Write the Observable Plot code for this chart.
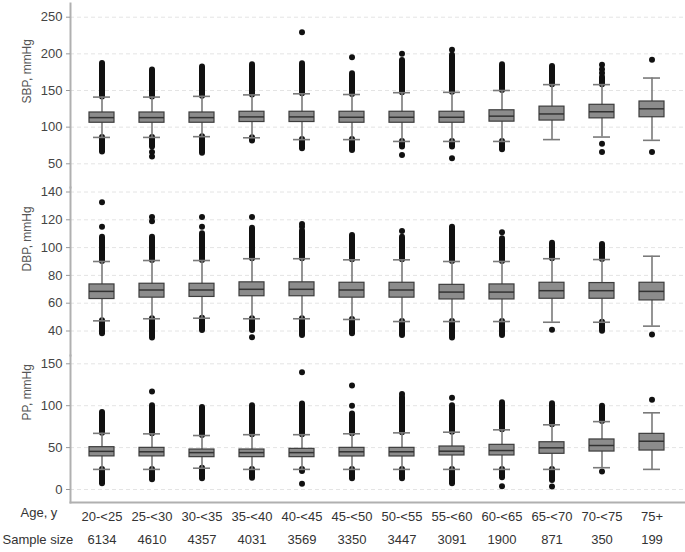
<!DOCTYPE html>
<html>
<head>
<meta charset="utf-8">
<script src="https://cdn.jsdelivr.net/npm/d3@7"></script>
<script src="https://cdn.jsdelivr.net/npm/@observablehq/plot@0.6"></script>
<style>
  body { margin: 0; background: #fff; }
  #chart { position: relative; width: 685px; height: 552px; }
  #chart svg { position: absolute; left: 0; display: block; }
</style>
</head>
<body>
<div id="chart"></div>
<script>
const ages = ["20-<25","25-<30","30-<35","35-<40","40-<45","45-<50","50-<55","55-<60","60-<65","65-<70","70-<75","75+"];
const sampleSizes = [6134,4610,4357,4031,3569,3350,3447,3091,1900,871,350,199];

// SBP, mmHg
const sbpTicks = [50,100,150,200,250];
const sbpQ1  = [106,106,106,107,107,106,106,106,107.5,109,112,113.5];
const sbpMed = [113,113,113,114,114,113.5,113.5,113.5,115,118,121,125];
const sbpQ3  = [120,120,120,121,121,121,121,121,123,128,130.5,135];
const sbpWhiskerLow  = [86,86,87,85.5,83,83,80.5,80.5,80.5,83,86.5,82];
const sbpWhiskerHigh = [141,141,142,144,145.5,144.5,147,147.5,150,158,158,167];
const sbpDenseLow  = [66,73,64.5,81,70.5,68,73,73,69,null,null,null];
const sbpDenseHigh = [187,178,182,185,186.5,173,191,198,185,182.8,168,null];
const sbpOutliers = [[1,66],[1,60],[4,229.5],[5,195.5],[6,200],[6,62],[7,205.5],[7,57.7],[10,185],[10,179],[10,174],[10,77.4],[10,66],[11,192],[11,66]];

// DBP, mmHg
const dbpTicks = [40,60,80,100,120,140];
const dbpQ1  = [63,64,64.5,65,65,64,64,62.7,62.7,63.2,63.2,62];
const dbpMed = [68.5,69.5,69.5,70,70,69.5,69.5,68,68,69,69,68.5];
const dbpQ3  = [73.5,74,74,75,75,74.7,74.7,73.2,73.5,74.7,74.5,74.7];
const dbpWhiskerLow  = [47.3,48.8,49.2,48.8,48.8,48.3,46.8,46.8,46.8,46.3,46.3,43.5];
const dbpWhiskerHigh = [90,90.7,90.7,92,92,91.2,91.2,90,90,92,91.4,93.8];
const dbpDenseLow  = [38,35,40.4,40.4,36.8,38,36.8,35,36.8,null,39.9,null];
const dbpDenseHigh = [107.5,107.5,110,114,112,108.7,107.5,113.5,106.3,103.2,102.2,null];
const dbpOutliers = [[0,115],[0,132.7],[1,119],[1,122],[2,115],[2,122],[3,122],[3,35.5],[4,115],[4,117],[6,112],[7,115],[8,111],[9,40.9],[11,37.5]];

// PP, mmHg
const ppTicks = [0,50,100,150];
const ppQ1  = [39.5,39.5,38.6,38.6,38.6,39.4,39.4,40.6,40.6,42.6,45.3,46.5];
const ppMed = [45.5,45,44,44,44,45,45,45.7,46.5,49.7,52.5,57.6];
const ppQ3  = [50.5,49.7,47.7,47.7,48.5,49.7,49.7,51.3,53.3,56.4,59.7,66.4];
const ppWhiskerLow  = [24,24,25.4,24,24,24,24,24,24,24,26,24];
const ppWhiskerHigh = [67,66.4,64.4,65.4,65.4,66.5,67.6,68.4,71.2,77.2,81,91.5];
const ppDenseLow  = [7,11.5,12.8,13.5,21.5,12.8,12.8,6.8,14,10.7,null,null];
const ppDenseHigh = [92,100,98,100,102,90,110,100,103.4,102.3,99.4,null];
const ppOutliers = [[1,117],[4,140],[4,7],[5,100],[5,124],[6,114],[7,109.4],[8,4],[9,3.6],[10,21.5],[11,107]];

const font = "Liberation Sans, Arial, sans-serif";

function panel(cfg) {
  const rows = ages.map((a, i) => ({
    age: a, q1: cfg.q1[i], med: cfg.med[i], q3: cfg.q3[i],
    wl: cfg.wl[i], wh: cfg.wh[i], dl: cfg.dl[i], dh: cfg.dh[i]
  }));
  const marks = [
    Plot.gridY(cfg.ticks, {stroke: "#e4e4e4", strokeOpacity: 1, strokeDasharray: "4,3"}),
    Plot.frame({anchor: "left", stroke: "#b0b0b0", strokeWidth: 2}),
    Plot.axisY({ticks: cfg.ticks, tickSize: 4, tickPadding: 4, label: null, stroke: "#999", fill: "#444", fontSize: 13}),
    Plot.text([cfg.title], {frameAnchor: "left", rotate: -90, dx: -43, dy: cfg.titleDy, fontSize: 12, fill: "#555"}),
    Plot.ruleX(rows.filter(d => d.dh != null), {x: "age", y1: "wh", y2: "dh", stroke: "#111", strokeWidth: 6, strokeLinecap: "round"}),
    Plot.ruleX(rows.filter(d => d.dl != null), {x: "age", y1: "wl", y2: "dl", stroke: "#111", strokeWidth: 6, strokeLinecap: "round"}),
    Plot.dot(cfg.dots, {x: d => ages[d[0]], y: d => d[1], r: 3, fill: "#111", stroke: "none"}),
    Plot.ruleX(rows, {x: "age", y1: "wl", y2: "wh", stroke: "#7a7a7a", strokeWidth: 1.6}),
    Plot.tickY(rows, {x: "age", y: "wh", stroke: "#7a7a7a", strokeWidth: 1.6, insetLeft: 4, insetRight: 4}),
    Plot.tickY(rows, {x: "age", y: "wl", stroke: "#7a7a7a", strokeWidth: 1.6, insetLeft: 4, insetRight: 4}),
    Plot.barY(rows, {x: "age", y1: "q1", y2: "q3", fill: "#8c8c8c", stroke: "#3c3c3c", strokeWidth: 1.2}),
    Plot.tickY(rows, {x: "age", y: "med", stroke: "#333", strokeWidth: 1.5})
  ];
  if (cfg.bottom) {
    marks.push(
      Plot.frame({anchor: "bottom", stroke: "#b0b0b0", strokeWidth: 2}),
      Plot.axisX({tickSize: 0, tickPadding: 9, label: null, fill: "#333", fontSize: 13}),
      Plot.text(ages, {x: d => d, text: (d, i) => String(sampleSizes[i]), frameAnchor: "bottom", dy: 41, fill: "#333", fontSize: 13}),
      Plot.text(["Age, y"], {frameAnchor: "bottom-left", dx: -50, dy: 14, textAnchor: "start", fill: "#333", fontSize: 13}),
      Plot.text(["Sample size"], {frameAnchor: "bottom-left", dx: -68, dy: 41, textAnchor: "start", fill: "#333", fontSize: 13})
    );
  }
  const svg = Plot.plot({
    width: 685,
    height: cfg.height,
    marginLeft: 70,
    marginRight: 0,
    marginTop: cfg.marginTop,
    marginBottom: cfg.marginBottom,
    style: {fontFamily: font, fontSize: "13px", color: "#444", background: "transparent", overflow: "visible"},
    x: {type: "band", domain: ages, range: [76.7, 676.7], paddingInner: 0.5, paddingOuter: 0.25, axis: cfg.bottom ? undefined : null},
    y: {domain: cfg.domain, range: cfg.range},
    marks
  });
  svg.style.top = cfg.top + "px";
  return svg;
}

const chart = document.getElementById("chart");
chart.appendChild(panel({
  q1: sbpQ1, med: sbpMed, q3: sbpQ3, wl: sbpWhiskerLow, wh: sbpWhiskerHigh, dl: sbpDenseLow, dh: sbpDenseHigh, dots: sbpOutliers,
  ticks: sbpTicks, domain: [50, 250], range: [163.3, 16.7], height: 187, marginTop: 3, marginBottom: 0, top: 0,
  title: "SBP, mmHg", titleDy: 8
}));
chart.appendChild(panel({
  q1: dbpQ1, med: dbpMed, q3: dbpQ3, wl: dbpWhiskerLow, wh: dbpWhiskerHigh, dl: dbpDenseLow, dh: dbpDenseHigh, dots: dbpOutliers,
  ticks: dbpTicks, domain: [40, 140], range: [143.5, 4.5], height: 168, marginTop: 0, marginBottom: 0, top: 187,
  title: "DBP, mmHg", titleDy: 0
}));
chart.appendChild(panel({
  q1: ppQ1, med: ppMed, q3: ppQ3, wl: ppWhiskerLow, wh: ppWhiskerHigh, dl: ppDenseLow, dh: ppDenseHigh, dots: ppOutliers,
  ticks: ppTicks, domain: [0, 150], range: [134, 8.3], height: 197, marginTop: 0, marginBottom: 50, top: 355,
  title: "PP, mmHg", titleDy: -8.5, bottom: true
}));
</script>
</body>
</html>
